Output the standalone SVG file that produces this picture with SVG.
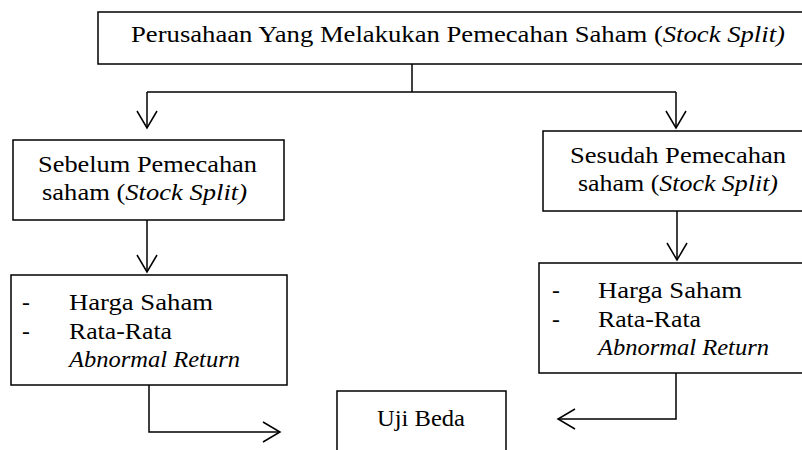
<svg xmlns="http://www.w3.org/2000/svg" width="802" height="450" viewBox="0 0 802 450">
<defs>
<style>
.box{fill:#fff;stroke:#000;stroke-width:1.5}
.t{font-family:"Liberation Serif","Times New Roman",serif;font-size:23.5px;fill:#000}
.i{font-style:italic}
.c{fill:none;stroke:#000;stroke-width:1.5}
</style>
<marker id="ah" markerUnits="userSpaceOnUse" markerWidth="24" markerHeight="24" viewBox="-20 -12 24 24" refX="0" refY="0" orient="auto">
<path d="M-17,-10 L0,0 L-17,10" fill="none" stroke="#000" stroke-width="1.5"/>
</marker>
</defs>
<rect width="802" height="450" fill="#fff"/>
<g id="connectors">
<path class="c" d="M412,64 V92"/>
<path class="c" d="M147,92 H676"/>
<path class="c" d="M147,92 V128" marker-end="url(#ah)"/>
<path class="c" d="M676,92 V128" marker-end="url(#ah)"/>
<path class="c" d="M147,220 V272" marker-end="url(#ah)"/>
<path class="c" d="M677,211 V260" marker-end="url(#ah)"/>
<path class="c" d="M149,385 V432 H280" marker-end="url(#ah)"/>
<path class="c" d="M676,373 V419 H558" marker-end="url(#ah)"/>
</g>
<g id="top">
<rect class="box" x="98" y="12" width="712" height="52"/>
<text class="t" x="131" y="42" textLength="654" lengthAdjust="spacingAndGlyphs">Perusahaan Yang Melakukan Pemecahan Saham (<tspan class="i">Stock Split)</tspan></text>
</g>
<g id="sebelum">
<rect class="box" x="13" y="140" width="271" height="80"/>
<text class="t" x="38" y="172" textLength="219" lengthAdjust="spacingAndGlyphs">Sebelum Pemecahan</text>
<text class="t" x="42" y="200" textLength="205" lengthAdjust="spacingAndGlyphs">saham (<tspan class="i">Stock Split)</tspan></text>
</g>
<g id="sesudah">
<rect class="box" x="543" y="131" width="270" height="80"/>
<text class="t" x="570" y="163" textLength="216" lengthAdjust="spacingAndGlyphs">Sesudah Pemecahan</text>
<text class="t" x="578" y="191" textLength="200" lengthAdjust="spacingAndGlyphs">saham (<tspan class="i">Stock Split)</tspan></text>
</g>
<g id="variabel-sebelum">
<rect class="box" x="11" y="275" width="276" height="110"/>
<text class="t" x="22" y="310">-</text>
<text class="t" x="69" y="310" textLength="144" lengthAdjust="spacingAndGlyphs">Harga Saham</text>
<text class="t" x="22" y="339">-</text>
<text class="t" x="69" y="339" textLength="103" lengthAdjust="spacingAndGlyphs">Rata-Rata</text>
<text class="t i" x="69" y="367" textLength="171" lengthAdjust="spacingAndGlyphs">Abnormal Return</text>
</g>
<g id="variabel-sesudah">
<rect class="box" x="539" y="263" width="275" height="110"/>
<text class="t" x="552" y="298">-</text>
<text class="t" x="598" y="298" textLength="144" lengthAdjust="spacingAndGlyphs">Harga Saham</text>
<text class="t" x="552" y="327">-</text>
<text class="t" x="598" y="327" textLength="103" lengthAdjust="spacingAndGlyphs">Rata-Rata</text>
<text class="t i" x="598" y="355" textLength="171" lengthAdjust="spacingAndGlyphs">Abnormal Return</text>
</g>
<g id="uji-beda">
<rect class="box" x="337" y="391" width="169" height="70"/>
<text class="t" x="377" y="426" textLength="88" lengthAdjust="spacingAndGlyphs">Uji Beda</text>
</g>
</svg>
